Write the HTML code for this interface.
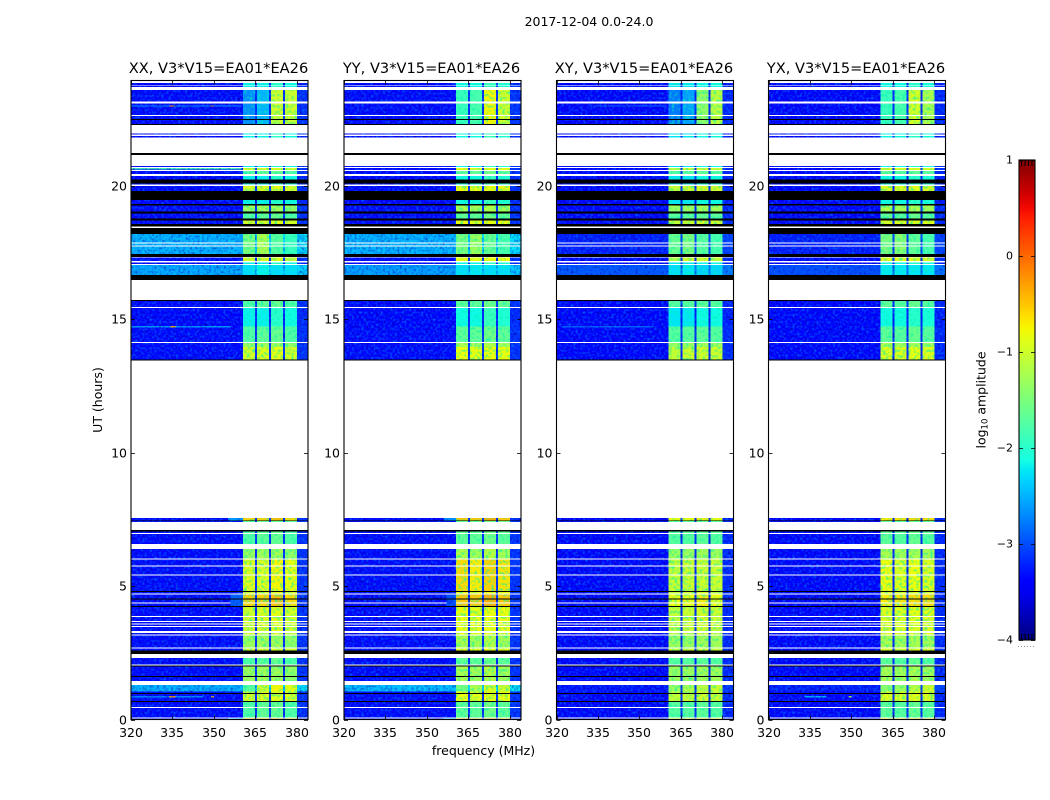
<!DOCTYPE html>
<html lang="en">
<head>
<meta charset="utf-8">
<title>2017-12-04 0.0-24.0</title>
<style>
html,body{margin:0;padding:0;background:#fff;width:1050px;height:800px;overflow:hidden}
svg{display:block}
text{font-family:"DejaVu Sans","Liberation Sans",sans-serif;fill:#000}
.cell{shape-rendering:crispEdges}
</style>
</head>
<body>
<svg id="chart" xmlns="http://www.w3.org/2000/svg" width="1050" height="800" viewBox="0 0 1050 800">
  <defs>
    <filter id="speckle" filterUnits="userSpaceOnUse" x="100" y="60" width="880" height="680" color-interpolation-filters="sRGB">
      <feTurbulence type="fractalNoise" baseFrequency="0.42" numOctaves="1" seed="7" result="n"/>
      <feColorMatrix in="n" type="matrix" values="0 0 0 0 0  0 0 0 0 0.42  0 0 0 0 1  2.3 0 0 0 -1.05" result="light"/>
      <feColorMatrix in="n" type="matrix" values="0 0 0 0 0  0 0 0 0 0  0 0 0 0 0.6  0 1.9 0 0 -0.95" result="dark"/>
      <feComposite in="light" in2="SourceAlpha" operator="in" result="lightClip"/>
      <feComposite in="dark" in2="SourceAlpha" operator="in" result="darkClip"/>
      <feMerge><feMergeNode in="SourceGraphic"/><feMergeNode in="darkClip"/><feMergeNode in="lightClip"/></feMerge>
    </filter>
    <filter id="speckle-bands" filterUnits="userSpaceOnUse" x="100" y="60" width="880" height="680" color-interpolation-filters="sRGB">
      <feTurbulence type="fractalNoise" baseFrequency="0.36" numOctaves="1" seed="11" result="n"/>
      <feColorMatrix in="n" type="matrix" values="0 0 0 0 0  0 0 0 0 0.95  0 0 0 0 0.7  2.1 0 0 0 -0.98" result="light"/>
      <feComposite in="light" in2="SourceAlpha" operator="in" result="lightClip"/>
      <feMerge><feMergeNode in="SourceGraphic"/><feMergeNode in="lightClip"/></feMerge>
    </filter>
    <linearGradient id="jet-gradient" x1="0" y1="1" x2="0" y2="0"></linearGradient>
  </defs>
  <text x="589" y="26" font-size="12.5" text-anchor="middle">2017-12-04 0.0-24.0</text>
  <text x="483.5" y="755" font-size="12.5" text-anchor="middle">frequency (MHz)</text>
  <text transform="translate(102,400) rotate(-90)" font-size="12.5" text-anchor="middle">UT (hours)</text>
  <text transform="translate(985.5,400) rotate(-90)" font-size="12.5" text-anchor="middle">log<tspan font-size="8.5" dy="2">10</tspan><tspan dy="-2"> amplitude</tspan></text>
  <g id="panels"></g>
  <g id="colorbar"></g>
</svg>
<script>
// ---------- chart data ----------
const polarizations = ['XX', 'YY', 'XY', 'YX'];
const panelTitles = ['XX, V3*V15=EA01*EA26', 'YY, V3*V15=EA01*EA26', 'XY, V3*V15=EA01*EA26', 'YX, V3*V15=EA01*EA26'];
const xTicks = [320, 335, 350, 365, 380];
const yTicks = [0, 5, 10, 15, 20];
const colorbarTicks = [1, 0, -1, -2, -3, -4];
const colorbarTickLabels = ['1', '0', '\u22121', '\u22122', '\u22123', '\u22124'];

// frequency channels (MHz) and their role: -1 low band, 0..3 spectral window, -2 gap, -3 upper flank
const channelEdges = [320, 360.5, 364.8, 365.5, 369.9, 370.6, 374.9, 375.7, 380, 384];
const channelRole = [-1, 0, -2, 1, -2, 2, -2, 3, -3];
const gapLift = 0.2;
const flankLift = 0.2;

// time rows (UT hours); rows not listed have no data (white). Class -2 = black flagged row
const rowStart = [0, .08, .47, .65, .69, .96, 1.0, 1.04, 1.44, 1.59, 1.63, 1.99, 2.06, 2.46, 2.58, 2.70, 3.19, 3.31, 3.50, 3.60, 3.69, 3.88, 4.21, 4.25, 4.38, 4.49, 4.53, 4.72, 4.78, 4.81, 5.43, 5.77, 6.03, 6.57, 6.99, 7.04, 7.40, 7.43, 7.46, 13.44, 13.48, 13.95, 14.14, 14.71, 15.45, 15.67, 16.46, 16.65, 17.06, 17.18, 17.33, 17.43, 17.75, 17.87, 18.18, 18.46, 18.56, 18.68, 18.77, 18.96, 19.03, 19.26, 19.31, 19.46, 19.80, 20.04, 20.07, 20.23, 20.43, 20.58, 20.69, 21.15, 21.79, 21.91, 22.26, 22.30, 22.45, 22.49, 22.64, 23.14, 23.68, 23.77];
const rowEnd = [.03, .43, .65, .69, .96, 1.0, 1.04, 1.29, 1.59, 1.63, 1.99, 2.02, 2.30, 2.58, 2.66, 3.15, 3.24, 3.46, 3.56, 3.65, 3.84, 4.21, 4.25, 4.34, 4.49, 4.53, 4.68, 4.78, 4.81, 5.39, 5.73, 6.0, 6.39, 6.95, 7.04, 7.10, 7.43, 7.46, 7.55, 13.48, 13.95, 14.10, 14.71, 15.41, 15.67, 15.71, 16.65, 17.02, 17.11, 17.31, 17.43, 17.71, 17.83, 18.18, 18.40, 18.56, 18.68, 18.77, 18.96, 19.03, 19.26, 19.31, 19.46, 19.80, 19.98, 20.07, 20.23, 20.36, 20.54, 20.65, 20.73, 21.21, 21.85, 21.95, 22.30, 22.45, 22.49, 22.60, 23.08, 23.58, 23.74, 23.83];
const rowClass = [0, 3, 3, -2, 1, -2, 1, 8, 2, -2, 2, -2, 3, -2, 1, 2, 1, 1, 1, 1, 1, 1, -2, 0, 0, -2, 0, 1, -2, 9, 9, 9, 2, 3, 3, -2, 3, -2, 0, -2, 1, 2, 3, 4, 3, -2, -2, 7, 4, 1, -2, 6, 6, 6, -2, -2, 1, -2, 3, -2, 2, -2, 4, -2, 1, 4, -2, 4, 3, 1, 4, -2, 4, 4, -2, 5, -2, 5, 5, 5, 4, 4];

// low-band log10 amplitude for each row class, per polarization
const lowXX = [-3.35, -3.35, -3.35, -3.35, -3.4, -3.35, -2.45, -2.5, -2.45, -3.35];
const lowYY = [-3.35, -3.35, -3.35, -3.35, -3.4, -3.35, -2.45, -2.55, -2.4, -3.35];
const lowXY = [-3.4, -3.4, -3.4, -3.4, -3.45, -3.4, -3.25, -2.95, -3.3, -3.4];
const lowYX = [-3.4, -3.4, -3.4, -3.4, -3.45, -3.4, -3.25, -3.0, -3.25, -3.4];

// spectral-window levels [window1..4] for each row class
const bandsXX = [[-.55, -.55, -.45, -.6], [-.95, -.9, -.85, -.95], [-1.3, -1.25, -1.25, -1.35], [-1.75, -1.65, -1.6, -1.75], [-2.2, -2.2, -2.0, -2.15], [-2.7, -2.5, -1.0, -1.0], [-1.5, -1.2, -1.7, -1.9], [-2.3, -2.2, -2.3, -2.3], [-1.7, -1.0, -.75, -.85], [-.9, -.9, -.75, -.85]];
const bandsYY = [[-.5, -.5, -.35, -.5], [-.8, -.85, -.8, -.8], [-1.2, -1.25, -1.15, -1.25], [-1.65, -1.65, -1.55, -1.65], [-2.15, -2.15, -1.9, -2.05], [-1.9, -1.8, -.75, -1.0], [-1.5, -1.3, -1.6, -1.8], [-2.3, -2.25, -2.3, -2.3], [-1.5, -1.2, -.9, -1.0], [-.6, -.7, -.55, -.65]];
const bandsXY = [[-.8, -.8, -.7, -.8], [-1.05, -1.0, -.95, -1.0], [-1.3, -1.3, -1.25, -1.25], [-1.7, -1.7, -1.65, -1.7], [-2.25, -2.25, -2.15, -2.15], [-2.8, -2.6, -1.35, -1.1], [-1.6, -1.5, -1.7, -1.8], [-2.3, -2.25, -2.35, -2.35], [-1.3, -1.2, -1.1, -1.0], [-1.05, -1.0, -1.0, -1.0]];
const bandsYX = [[-.7, -.65, -.6, -.6], [-.9, -.9, -.85, -.9], [-1.2, -1.25, -1.2, -1.25], [-1.65, -1.7, -1.6, -1.7], [-2.15, -2.15, -2.0, -2.1], [-1.9, -1.8, -.95, -1.2], [-1.5, -1.4, -1.65, -1.8], [-2.25, -2.25, -2.25, -2.25], [-1.4, -1.3, -1.1, -.95], [-.8, -.9, -.8, -.9]];

// narrow interference features: polarization index, UT range, frequency range, level
const rfiPol = [0, 0, 0, 2, 0, 0, 0, 0, 0, 2, 3, 3, 0, 1, 0, 1, 0, 1, 0];
const rfiUTStart = [22.95, 22.95, 22.95, 22.95, 14.69, 14.69, 0.83, 0.83, 0.83, 14.69, 0.83, 0.83, 4.25, 4.25, 0, 0, 7.46, 7.46, 20.60];
const rfiUTEnd = [23.0, 23.0, 23.0, 23.0, 14.74, 14.74, 0.88, 0.88, 0.88, 14.74, 0.88, 0.88, 4.68, 4.68, .03, .03, 7.55, 7.55, 20.65];
const rfiFreqStart = [320, 334, 349, 333, 320, 334, 320, 334, 349, 322, 333, 349, 356, 357, 355, 356, 355, 356, 320];
const rfiFreqEnd = [360, 336, 350, 360, 356, 336, 346, 336, 350, 355, 341, 350, 360.5, 360.5, 360.5, 360.5, 360.5, 360.5, 360];
const rfiLevel = [-2.6, -.3, -.3, -2.9, -2.6, -.5, -2.7, -.3, -.4, -2.9, -2.5, -1.2, -2.9, -3.0, -2.3, -2.4, -2.6, -2.6, -1.8];

// ---------- scales ----------
const NS = 'http://www.w3.org/2000/svg';
const panelLeft = [131, 344, 556.5, 768.5];
const panelWidth = 177;
const axisTop = 80.5;
const axisBottom = 719.5;
const xDomain = [320, 384];
const yPerHour = 26.7;
const colorDomain = [-4, 1];
const cbX = 1019, cbW = 16, cbTop = 160, cbBottom = 640;

function xScale(freq, left) {
  return left + (freq - xDomain[0]) / (xDomain[1] - xDomain[0]) * panelWidth;
}
function yScale(hour) {
  return axisBottom - hour * yPerHour;
}
function cbScale(value) {
  return cbBottom - (value - colorDomain[0]) / (colorDomain[1] - colorDomain[0]) * (cbBottom - cbTop);
}
function interp(t, pts) {
  for (let i = 1; i < pts.length; i++) {
    if (t <= pts[i][0]) {
      const a = pts[i - 1], b = pts[i];
      return a[1] + (b[1] - a[1]) * (t - a[0]) / (b[0] - a[0]);
    }
  }
  return pts[pts.length - 1][1];
}
function jet(t) {
  t = Math.max(0, Math.min(1, t));
  const r = interp(t, [[0, 0], [.35, 0], [.66, 1], [.89, 1], [1, .5]]);
  const g = interp(t, [[0, 0], [.125, 0], [.375, 1], [.64, 1], [.91, 0], [1, 0]]);
  const b = interp(t, [[0, .5], [.11, 1], [.34, 1], [.65, 0], [1, 0]]);
  return 'rgb(' + Math.round(r * 255) + ',' + Math.round(g * 255) + ',' + Math.round(b * 255) + ')';
}
function levelColor(level) {
  return jet((level - colorDomain[0]) / (colorDomain[1] - colorDomain[0]));
}
function mk(tag, parent) {
  const el = document.createElementNS(NS, tag);
  parent.appendChild(el);
  return el;
}
function setAll(el, props) {
  for (const k in props) el.setAttribute(k, props[k]);
}

// ---------- draw panels ----------
const lowTables = [lowXX, lowYY, lowXY, lowYX];
const bandTables = [bandsXX, bandsYY, bandsXY, bandsYX];
const panelsRoot = document.getElementById('panels');

polarizations.forEach(function (pol, p) {
  const left = panelLeft[p];
  const panel = mk('g', panelsRoot);
  
  

  const dataGroup = mk('g', panel);
  
  
  dataGroup.setAttribute('filter', 'url(#speckle)');
  const bandGroup = mk('g', panel);
  
  
  bandGroup.setAttribute('filter', 'url(#speckle-bands)');
  const flagGroup = mk('g', panel);
  
  

  rowStart.forEach(function (start, r) {
    const cls = rowClass[r];
    const y0 = yScale(rowEnd[r]);
    const y1 = yScale(start);
    if (cls === -2) {
      const flagged = mk('rect', flagGroup);
      
      
      flagged.setAttribute('class', 'cell');
      setAll(flagged, { x: left, y: y0, width: panelWidth, height: y1 - y0, fill: '#000' });
      return;
    }
    channelRole.forEach(function (role, c) {
      const low = lowTables[p][cls];
      let level = low;
      if (role >= 0) level = bandTables[p][cls][role];
      if (role === -2) level = low + gapLift;
      if (role === -3) level = low + flankLift;
      const x0 = xScale(channelEdges[c], left);
      const x1 = xScale(channelEdges[c + 1], left);
      const cell = mk('rect', role >= 0 ? bandGroup : dataGroup);
      
      
      cell.setAttribute('class', 'cell');
      setAll(cell, { x: x0, y: y0, width: x1 - x0, height: y1 - y0, fill: levelColor(level) });
    });
  });

  rfiPol.forEach(function (rp, i) {
    if (rp !== p) return;
    const y0 = yScale(rfiUTEnd[i]);
    const y1 = yScale(rfiUTStart[i]);
    const x0 = xScale(rfiFreqStart[i], left);
    const x1 = xScale(rfiFreqEnd[i], left);
    const mark = mk('rect', dataGroup);
    
    
    mark.setAttribute('class', 'cell');
    setAll(mark, { x: x0, y: y0, width: x1 - x0, height: y1 - y0, fill: levelColor(rfiLevel[i]) });
  });

  const frame = mk('rect', panel);
  
  
  setAll(frame, { x: left, y: axisTop, width: panelWidth, height: axisBottom - axisTop, fill: 'none', stroke: '#000', 'stroke-width': 1.1 });

  const title = mk('text', panel);
  
  
  setAll(title, { x: left + panelWidth / 2 - 1, y: 73, 'font-size': 14.6, 'text-anchor': 'middle' });
  title.textContent = panelTitles[p];

  xTicks.forEach(function (t) {
    const x = Math.round(xScale(t, left)) + 0.5;
    [[axisBottom, axisBottom - 4], [axisTop, axisTop + 4]].forEach(function (pair) {
      const tick = mk('line', panel);
      
      
      setAll(tick, { x1: x, x2: x, y1: pair[0], y2: pair[1], stroke: '#000', 'stroke-width': 0.8 });
    });
    const label = mk('text', panel);
    
    
    setAll(label, { x: x - 0.5, y: 737, 'font-size': 12.5, 'text-anchor': 'middle' });
    label.textContent = String(t);
  });

  yTicks.forEach(function (t) {
    const y = Math.round(yScale(t)) + 0.5;
    [[left, left + 4], [left + panelWidth, left + panelWidth - 4]].forEach(function (pair) {
      const tick = mk('line', panel);
      
      
      setAll(tick, { x1: pair[0], x2: pair[1], y1: y, y2: y, stroke: '#000', 'stroke-width': 0.8 });
    });
    const label = mk('text', panel);
    
    
    setAll(label, { x: left - 4, y: y + 3.8, 'font-size': 12.5, 'text-anchor': 'end' });
    label.textContent = String(t);
  });
});

// ---------- colorbar ----------
const grad = document.getElementById('jet-gradient');
for (let i = 0; i <= 40; i++) {
  const stop = mk('stop', grad);
  setAll(stop, { offset: (i / 40 * 100) + '%', 'stop-color': jet(i / 40) });
}
const cbRoot = document.getElementById('colorbar');
const cbRect = mk('rect', cbRoot);


setAll(cbRect, { x: cbX, y: cbTop, width: cbW, height: cbBottom - cbTop, fill: 'url(#jet-gradient)', stroke: '#000', 'stroke-width': 1.1 });

colorbarTicks.forEach(function (v, i) {
  const y = Math.round(cbScale(v)) + 0.5;
  [[cbX, cbX + 4], [cbX + cbW, cbX + cbW - 4]].forEach(function (pair) {
    const tick = mk('line', cbRoot);
    
    
    setAll(tick, { x1: pair[0], x2: pair[1], y1: y, y2: y, stroke: '#000', 'stroke-width': 0.8 });
  });
  const label = mk('text', cbRoot);
  
  
  setAll(label, { x: 1013, y: y + 3, 'font-size': 11, 'text-anchor': 'end' });
  label.textContent = colorbarTickLabels[i];
});

[0, 1].forEach(function (edge) {
  const yEnd = edge ? cbBottom : cbTop;
  const dir = edge ? -1 : 1;
  const minor = mk('line', cbRoot);
  
  
  setAll(minor, { x1: cbX + 2, x2: cbX + cbW - 1, y1: yEnd + dir * 3, y2: yEnd + dir * 3, stroke: '#000', 'stroke-width': 6, 'stroke-dasharray': '1 2.5' });
});

const dots = mk('line', cbRoot);


setAll(dots, { x1: 1018, x2: 1035, y1: 646.5, y2: 646.5, stroke: '#999', 'stroke-width': 1, 'stroke-dasharray': '1 2' });
</script>
</body>
</html>
